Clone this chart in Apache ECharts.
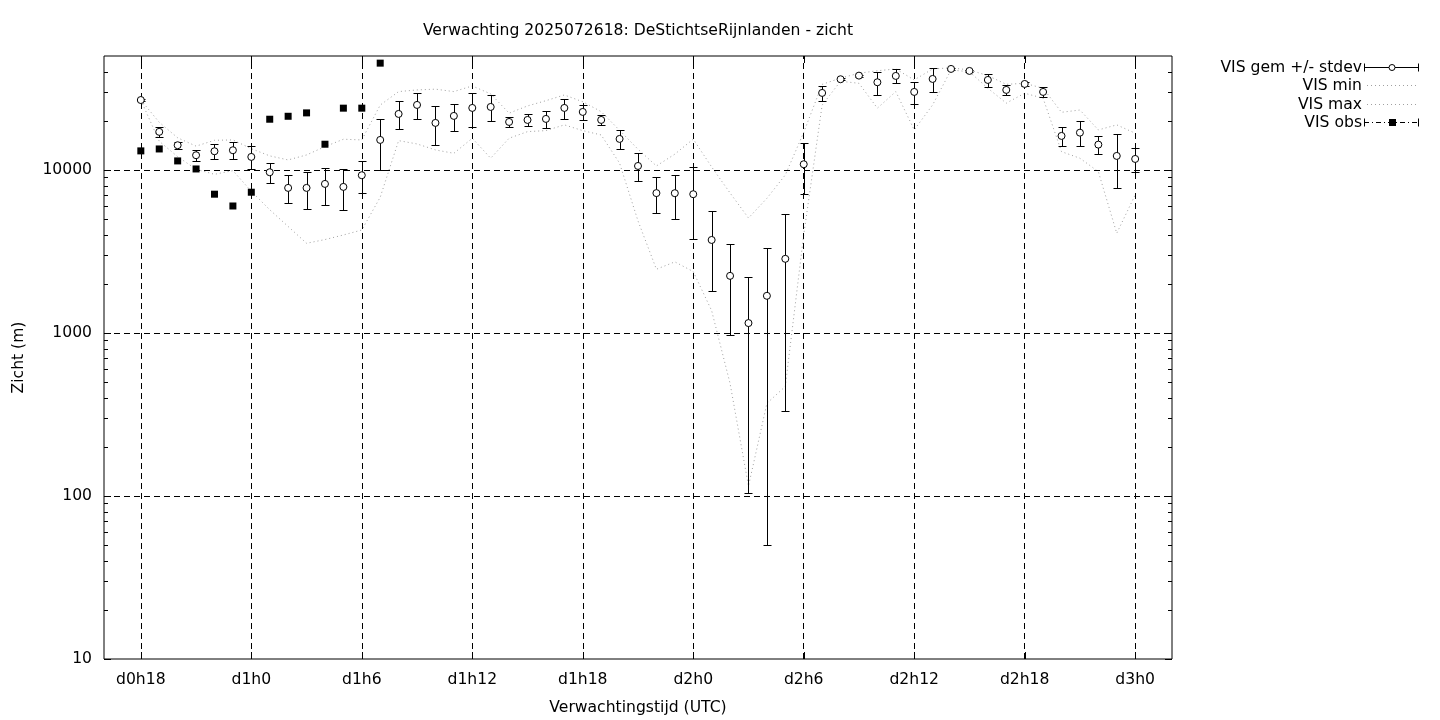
<!DOCTYPE html>
<html>
<head>
<meta charset="utf-8">
<script src="https://cdn.jsdelivr.net/npm/echarts@6/dist/echarts.min.js"></script>
<style>
html,body{margin:0;padding:0;background:#fff;}
#c{width:1440px;height:720px;}
</style>
</head>
<body>
<div id="c"></div>
<script>
// ---- data (hours since d0h0) ----
const hours = [18,19,20,21,22,23,24,25,26,27,28,29,30,31,32,33,34,35,36,37,38,39,40,41,42,43,44,45,46,47,48,49,50,51,52,53,54,55,56,57,58,59,60,61,62,63,64,65,66,67,68,69,70,71,72];
const visMean = [26850,17130,14180,12310,13020,13210,12020,9680,7760,7760,
                 8210,7870,9280,15280,22060,25050,19430,21450,24010,24350,
                 19700,20270,20560,24010,22690,20270,15500,10580,7210,7200,
                 7100,3720,2240,1150,1690,2850,10840,29680,36010,37890,
                 34510,37730,30100,36160,41650,40490,35650,30970,33690,30100,
                 16170,16930,14300,12190,11680];
const visStdev = [300,1300,740,980,1375,1580,1950,1350,1515,1985,
                  2085,2220,2055,5285,4250,4540,5140,4010,5635,4510,
                  1345,1715,2380,3340,2310,1430,1975,2050,1795,2175,
                  3355,1900,1270,1045,1640,2520,3690,3130,600,500,
                  5610,3690,4730,6260,550,500,3240,2180,900,2000,
                  2090,2955,1780,4400,1955];
const visMin = [26850,15000,12060,10100,9400,9900,7400,5700,4500,3550,
                3740,3990,4280,6800,15130,14440,13270,12650,15650,11800,
                15650,17180,17430,18900,17430,16390,11000,4870,2460,2730,
                2380,1370,490,115,370,470,4000,25000,35000,34000,
                23930,30240,17600,25050,41070,40000,31700,25700,29550,27540,
                12950,11800,9760,4090,7030];
const visMax = [26850,19600,15750,14000,15200,15280,13500,12200,11520,12360,
                13900,15430,15280,25000,30240,30970,31300,30240,32760,29270,
                22300,24700,26600,28840,26200,22790,17500,13400,10580,12500,
                15460,10430,7220,5070,6700,9320,17000,33500,36600,39200,
                40600,41650,35650,41650,42300,41070,37890,33520,34000,31700,
                22580,23320,17600,18900,16800];
const obsHours = [18,19,20,21,22,23,24,25,26,27,28,29,30,31];
const visObs = [13090,13450,11360,10140,7100,6010,7300,20470,21340,22390,14380,23930,23930,45200];

const xTickHours = [18,24,30,36,42,48,54,60,66,72];
const xTickLabels = ['d0h18','d1h0','d1h6','d1h12','d1h18','d2h0','d2h6','d2h12','d2h18','d3h0'];
const yMajorTicks = [10,100,1000,10000];
const yMinorTicks = [20,30,40,50,60,70,80,90,200,300,400,500,600,700,800,900,
                     2000,3000,4000,5000,6000,7000,8000,9000,20000,30000,40000];
const titleText = 'Verwachting 2025072618: DeStichtseRijnlanden - zicht';
const legendNames = ['VIS gem +/- stdev','VIS min','VIS max','VIS obs'];

// ---- chart ----
const FONT = 'DejaVu Sans';
const FS = 15.6;
const chart = echarts.init(document.getElementById('c'), null, {renderer: 'canvas'});

const meanData = hours.map((h, i) => [h, visMean[i]]);
const errData = hours.map((h, i) => [h, visMean[i] - visStdev[i], visMean[i] + visStdev[i]]);
const minData = hours.map((h, i) => [h, visMin[i]]);
const maxData = hours.map((h, i) => [h, visMax[i]]);
const obsData = obsHours.map((h, i) => [h, visObs[i]]);

const crisp = v => Math.round(v) + 0.5;
const GRIDDASH = [6, 4];
const DOT = '#a0a0a0';
const DOTDASH = [1, 3];

function errRender(params, api) {
  const x = api.value(0), lo = api.value(1), hi = api.value(2);
  const p1 = api.coord([x, lo]), p2 = api.coord([x, hi]);
  const cx = crisp(p1[0]);
  const y1 = crisp(p1[1]), y2 = crisp(p2[1]);
  const hw = 4;
  const st = {stroke: '#000', lineWidth: 1};
  return {type: 'group', children: [
    {type: 'line', shape: {x1: cx, y1: y1, x2: cx, y2: y2}, style: st},
    {type: 'line', shape: {x1: cx - hw, y1: y1, x2: cx + hw, y2: y1}, style: st},
    {type: 'line', shape: {x1: cx - hw, y1: y2, x2: cx + hw, y2: y2}, style: st}
  ]};
}

function yTickRender(len) {
  return function (params, api) {
    const cs = params.coordSys;
    const p = api.coord([api.value(0), api.value(1)]);
    const y = crisp(p[1]);
    const st = {stroke: '#000', lineWidth: 1};
    return {type: 'group', children: [
      {type: 'line', shape: {x1: cs.x, y1: y, x2: cs.x + len, y2: y}, style: st},
      {type: 'line', shape: {x1: cs.x + cs.width - len, y1: y, x2: cs.x + cs.width, y2: y}, style: st}
    ]};
  };
}
function xTickRender(params, api) {
  const cs = params.coordSys;
  const p = api.coord([api.value(0), api.value(1)]);
  const x = crisp(p[0]);
  const st = {stroke: '#000', lineWidth: 1};
  const len = 7;
  return {type: 'group', children: [
    {type: 'line', shape: {x1: x, y1: cs.y + cs.height, x2: x, y2: cs.y + cs.height - len}, style: st},
    {type: 'line', shape: {x1: x, y1: cs.y, x2: x, y2: cs.y + len}, style: st}
  ]};
}

const gridLineData = xTickHours.map(h => ({xAxis: h}))
  .concat(yMajorTicks.slice(1).map(v => ({yAxis: v})));

// legend (drawn as graphic so the sample glyphs match the gnuplot key)
const LX = 1362, S1 = 1364, S2 = 1419, SC = 1392;
const LY = [66.5, 85, 103.5, 122];
const legendGraphic = [];
legendNames.forEach((name, i) => {
  legendGraphic.push({type: 'text', x: LX, y: LY[i] + 1, style: {
    text: name, font: FS + 'px "' + FONT + '"', fill: '#000', textAlign: 'right', textVerticalAlign: 'middle'}});
});
const ls = {stroke: '#000', lineWidth: 1};
let ly = crisp(LY[0]);
legendGraphic.push({type: 'line', shape: {x1: S1, y1: ly, x2: S2, y2: ly}, style: ls});
legendGraphic.push({type: 'line', shape: {x1: S1 + 0.5, y1: ly - 4, x2: S1 + 0.5, y2: ly + 4}, style: ls});
legendGraphic.push({type: 'line', shape: {x1: S2 - 0.5, y1: ly - 4, x2: S2 - 0.5, y2: ly + 4}, style: ls});
legendGraphic.push({type: 'circle', shape: {cx: SC, cy: ly, r: 3}, style: {fill: '#fff', stroke: '#000', lineWidth: 1}});
[1, 2].forEach(i => {
  const y = crisp(LY[i]);
  legendGraphic.push({type: 'line', shape: {x1: S1 + 3, y1: y, x2: S2 - 2, y2: y}, style: {stroke: DOT, lineWidth: 1, lineDash: DOTDASH}});
});
ly = crisp(LY[3]);
legendGraphic.push({type: 'line', shape: {x1: S1, y1: ly, x2: S2, y2: ly}, style: {stroke: '#000', lineWidth: 1, lineDash: [5, 3, 1, 3]}});
legendGraphic.push({type: 'line', shape: {x1: S1 + 0.5, y1: ly - 4, x2: S1 + 0.5, y2: ly + 4}, style: ls});
legendGraphic.push({type: 'line', shape: {x1: S2 - 0.5, y1: ly - 4, x2: S2 - 0.5, y2: ly + 4}, style: ls});
legendGraphic.push({type: 'rect', shape: {x: SC + 0.5 - 3.5, y: ly - 3.5, width: 7, height: 7}, style: {fill: '#000'}});

const option = {
  animation: false,
  backgroundColor: '#fff',
  textStyle: {fontFamily: FONT},
  graphic: [
    {type: 'text', x: 638, y: 30.5, style: {text: titleText, font: FS + 'px "' + FONT + '"', fill: '#000',
      textAlign: 'center', textVerticalAlign: 'middle'}}
  ].concat(legendGraphic),
  grid: {left: 104, top: 56, width: 1068, height: 603, show: true, borderColor: '#000', borderWidth: 1,
         backgroundColor: 'transparent', containLabel: false, outerBoundsMode: 'none'},
  xAxis: {
    type: 'value', min: 16, max: 74, interval: 2,
    name: 'Verwachtingstijd (UTC)', nameLocation: 'middle', nameGap: 41,
    nameTextStyle: {fontFamily: FONT, fontSize: FS, color: '#000'},
    axisLine: {show: false}, axisTick: {show: false}, splitLine: {show: false},
    axisLabel: {
      color: '#000', fontFamily: FONT, fontSize: FS, margin: 13,
      formatter: v => { const k = xTickHours.indexOf(Math.round(v)); return k >= 0 ? xTickLabels[k] : ''; }
    }
  },
  yAxis: {
    type: 'log', logBase: 10, min: 10, max: 50000,
    name: 'Zicht (m)', nameLocation: 'middle', nameGap: 77,
    nameTextStyle: {fontFamily: FONT, fontSize: FS, color: '#000'},
    axisLine: {show: false}, axisTick: {show: false}, splitLine: {show: false},
    axisLabel: {
      color: '#000', fontFamily: FONT, fontSize: FS, margin: 12,
      formatter: v => {
        const e = Math.log10(v);
        return Math.abs(e - Math.round(e)) < 1e-6 && yMajorTicks.indexOf(Math.round(v)) >= 0 ? String(Math.round(v)) : '';
      }
    }
  },
  series: [
    {
      name: 'grid', type: 'line', data: [], z: 1, silent: true,
      markLine: {silent: true, symbol: ['none', 'none'], label: {show: false},
        lineStyle: {color: '#000', width: 1, type: GRIDDASH}, emphasis: {disabled: true},
        animation: false, data: gridLineData}
    },
    {name: 'yMajorTicks', type: 'custom', z: 2, silent: true, renderItem: yTickRender(7),
     data: yMajorTicks.map(v => [16, v])},
    {name: 'yMinorTicks', type: 'custom', z: 2, silent: true, renderItem: yTickRender(4),
     data: yMinorTicks.map(v => [16, v])},
    {name: 'xTicks', type: 'custom', z: 2, silent: true, renderItem: xTickRender,
     data: xTickHours.map(h => [h, 10])},
    {name: legendNames[1], type: 'line', data: minData, z: 3, symbol: 'none', silent: true,
     lineStyle: {color: DOT, width: 1, type: DOTDASH}},
    {name: legendNames[2], type: 'line', data: maxData, z: 3, symbol: 'none', silent: true,
     lineStyle: {color: DOT, width: 1, type: DOTDASH}},
    {name: 'err', type: 'custom', z: 4, silent: true, renderItem: errRender, data: errData},
    {name: legendNames[0], type: 'scatter', z: 5, data: meanData, symbol: 'circle', symbolSize: 7,
     itemStyle: {color: '#fff', borderColor: '#000', borderWidth: 1, opacity: 1}},
    {name: legendNames[3], type: 'scatter', z: 5, data: obsData, symbol: 'rect', symbolSize: 7,
     itemStyle: {color: '#000', opacity: 1}}
  ]
};
chart.setOption(option);
</script>
</body>
</html>
